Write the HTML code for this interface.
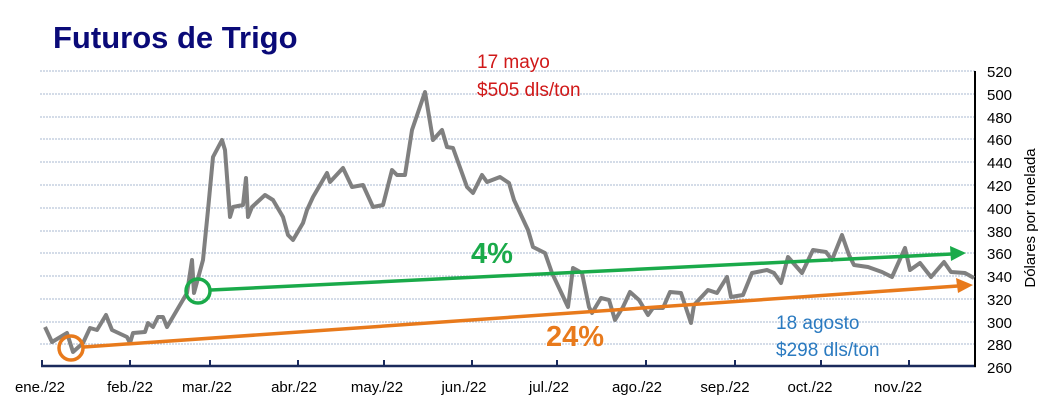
<!DOCTYPE html>
<html><head><meta charset="utf-8"><style>
html,body{margin:0;padding:0;background:#fff;}
svg{display:block;font-family:"Liberation Sans",sans-serif;}
</style></head><body>
<svg width="1042" height="414" viewBox="0 0 1042 414" xmlns="http://www.w3.org/2000/svg">
<rect width="1042" height="414" fill="#fff"/>
<text x="53" y="48" font-size="31" font-weight="bold" fill="#0a0a78" letter-spacing="0">Futuros de Trigo</text>
<g stroke="#a9b8d0" stroke-width="1" stroke-dasharray="2,1">
<line x1="40" x2="975" y1="71" y2="71"/><line x1="40" x2="975" y1="94" y2="94"/>
<line x1="40" x2="975" y1="117" y2="117"/><line x1="40" x2="975" y1="139" y2="139"/>
<line x1="40" x2="975" y1="162" y2="162"/><line x1="40" x2="975" y1="185" y2="185"/>
<line x1="40" x2="975" y1="208" y2="208"/><line x1="40" x2="975" y1="231" y2="231"/>
<line x1="40" x2="975" y1="253" y2="253"/><line x1="40" x2="975" y1="276" y2="276"/>
<line x1="40" x2="975" y1="299" y2="299"/><line x1="40" x2="975" y1="322" y2="322"/>
<line x1="40" x2="975" y1="344" y2="344"/>
</g>
<line x1="41" x2="976" y1="366" y2="366" stroke="#1a2a5c" stroke-width="2.5"/>
<line x1="975" x2="975" y1="71" y2="367" stroke="#000" stroke-width="2"/>
<g stroke="#1a2a5c" stroke-width="2">
<line x1="42" x2="42" y1="360" y2="366"/><line x1="130" x2="130" y1="360" y2="366"/>
<line x1="210" x2="210" y1="360" y2="366"/><line x1="298" x2="298" y1="360" y2="366"/>
<line x1="384" x2="384" y1="360" y2="366"/><line x1="472" x2="472" y1="360" y2="366"/>
<line x1="557" x2="557" y1="360" y2="366"/><line x1="646" x2="646" y1="360" y2="366"/>
<line x1="735" x2="735" y1="360" y2="366"/><line x1="821" x2="821" y1="360" y2="366"/>
<line x1="909" x2="909" y1="360" y2="366"/>
</g>
<g font-size="15" fill="#000" text-anchor="middle">
<text x="40" y="392">ene./22</text><text x="130" y="392">feb./22</text>
<text x="207" y="392">mar./22</text><text x="294" y="392">abr./22</text>
<text x="377" y="392">may./22</text><text x="464" y="392">jun./22</text>
<text x="549" y="392">jul./22</text><text x="637" y="392">ago./22</text>
<text x="725" y="392">sep./22</text><text x="810" y="392">oct./22</text>
<text x="898" y="392">nov./22</text>
</g>
<g font-size="15" fill="#000">
<text x="987" y="77">520</text><text x="987" y="100">500</text><text x="987" y="123">480</text>
<text x="987" y="145">460</text><text x="987" y="168">440</text><text x="987" y="191">420</text>
<text x="987" y="214">400</text><text x="987" y="237">380</text><text x="987" y="259">360</text>
<text x="987" y="282">340</text><text x="987" y="305">320</text><text x="987" y="328">300</text>
<text x="987" y="350">280</text><text x="987" y="373">260</text>
</g>
<text transform="translate(1035,218) rotate(-90)" font-size="15" text-anchor="middle" fill="#000">Dólares por tonelada</text>
<polyline fill="none" stroke="#808080" stroke-width="4" stroke-linejoin="round" points="45,327 52,342 67,333 73,352 83,343 90,328 97,330 106,315 112,330 127,337 130,343 133,333 145,332 148,323 153,327 158,317 163,317 167,327 177,310 187,293 192,260 194,293 203,260 208,210 213,157 222,140 225,150 230,217 233,207 243,205 246,178 248,217 252,207 265,195 273,200 283,217 288,235 293,240 303,223 307,210 313,197 327,173 330,182 343,168 352,187 363,185 373,207 383,205 392,170 397,175 405,175 412,130 425,92 433,140 442,130 447,147 453,148 467,187 473,193 482,175 487,182 500,177 509,183 514,200 528,230 533,247 545,253 552,273 568,307 573,268 582,273 589,307 592,313 601,298 609,300 615,320 623,307 630,292 639,300 648,315 653,308 663,308 670,292 681,293 691,323 694,305 708,290 717,293 727,277 731,297 743,295 752,273 767,270 774,273 781,283 788,257 802,273 813,250 826,252 832,260 842,235 849,255 854,265 868,267 882,272 892,277 905,248 910,270 920,263 931,277 944,262 951,272 965,273 974,278"/>
<circle cx="198" cy="291" r="12" fill="none" stroke="#1aaa4a" stroke-width="3.5"/>
<line x1="211" y1="290" x2="952" y2="254" stroke="#1aaa4a" stroke-width="3.5"/>
<polygon points="966,253 950,246 951,261" fill="#1aaa4a"/>
<circle cx="71" cy="348" r="12" fill="none" stroke="#e87a1c" stroke-width="3.5"/>
<line x1="84" y1="347" x2="958" y2="286" stroke="#e87a1c" stroke-width="3.5"/>
<polygon points="973,285 956,278 958,293" fill="#e87a1c"/>
<g font-size="19">
<text x="477" y="68" fill="#d01818">17 mayo</text>
<text x="477" y="96" fill="#d01818">$505 dls/ton</text>
<text x="776" y="329" fill="#2a7ac0">18 agosto</text>
<text x="776" y="356" fill="#2a7ac0">$298 dls/ton</text>
</g>
<text x="471" y="263" font-size="29" font-weight="bold" fill="#1aaa4a">4%</text>
<text x="546" y="346" font-size="29" font-weight="bold" fill="#e87a1c">24%</text>
</svg>
</body></html>
